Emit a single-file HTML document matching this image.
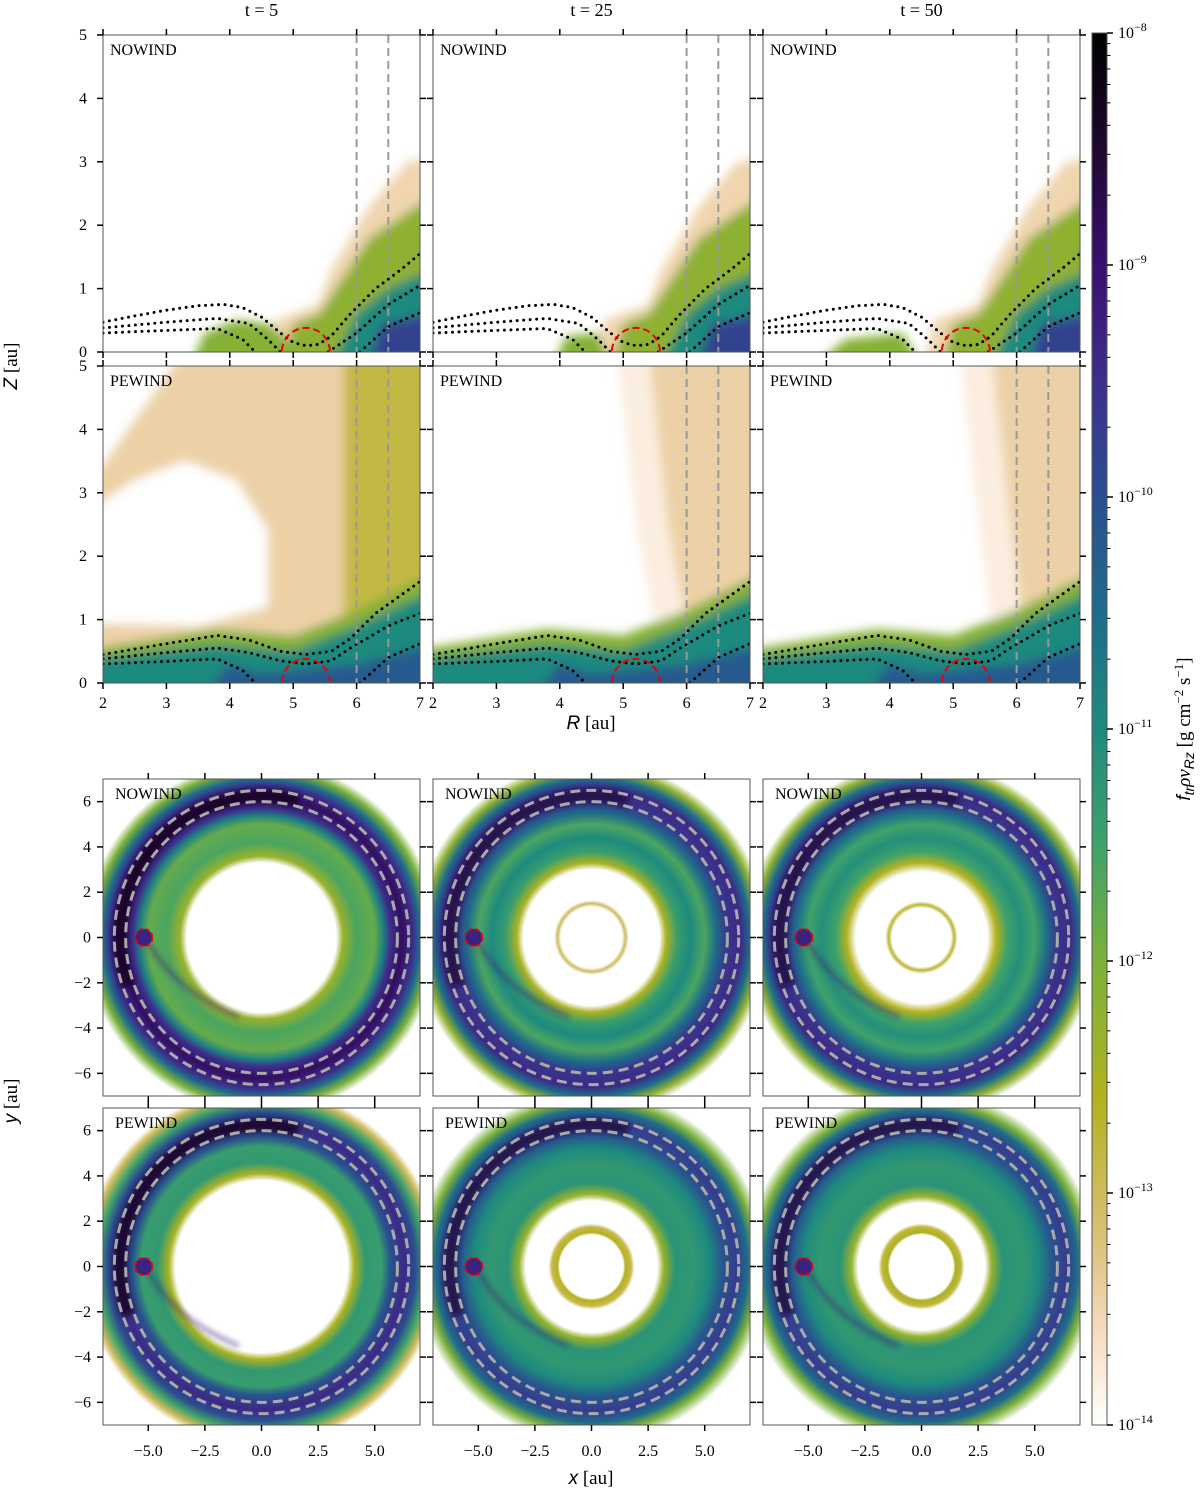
<!DOCTYPE html>
<html><head><meta charset="utf-8"><style>
html,body{margin:0;padding:0;background:#fff;width:1200px;height:1491px;overflow:hidden}
svg{display:block;font-family:"Liberation Serif",serif}
</style></head><body>
<svg id="fig" width="1200" height="1491" viewBox="0 0 1200 1491">
<defs>
<filter id="blur" x="-20%" y="-20%" width="140%" height="140%"><feGaussianBlur stdDeviation="5"/></filter>
<filter id="blur2" x="-20%" y="-20%" width="140%" height="140%"><feGaussianBlur stdDeviation="3"/></filter>
</defs>
</svg>
<script>
// ---- colormap data (log10 values -> colours)
const cmapLevels = [-14, -13.6, -13.2, -12.6, -12.0, -11.5, -11.0, -10.5, -10.0, -9.5, -9.0, -8.5, -8.0];
const cmapColors = ['#ffffff','#f6dcc0','#dcc07a','#b3b21f','#7cb13a','#3fa26a','#1e8a7e','#1e6c8a','#2b4e90','#3d2f8c','#3a0f6e','#1e0830','#000000'];
const cbarDecades = [-8, -9, -10, -11, -12, -13, -14];
const times = ['t = 5', 't = 25', 't = 50'];
const rTicks = [2, 3, 4, 5, 6, 7];
const zTicks = [0, 1, 2, 3, 4, 5];
const xyTicks = [-5, -2.5, 0, 2.5, 5];
const yTicksDisk = [-6, -4, -2, 0, 2, 4, 6];
const gapEdges = [6.0, 6.5];
const planetR = 5.2;
const planetHill = 0.38;

// NOWIND meridional layers: [polygon (R,Z), level]
const nwHalo = [[4.5,0],[4.7,0.5],[5.4,0.75],[5.6,1.3],[6.2,2.3],[6.8,3.0],[7,3.1],[7,0]];
const nwGreen = [[4.75,0],[5.0,0.45],[5.4,0.6],[5.7,1.05],[6.2,1.8],[7,2.6],[7,0]];
const nwTeal = [[5.5,0],[6,0.6],[6.5,1.0],[7,1.4],[7,0]];
const nwDark = [[6.1,0],[6.4,0.45],[7,0.65],[7,0]];
const nwLobe = [
  [[3.3,0],[3.6,0.3],[4.1,0.5],[4.6,0.45],[4.9,0.2],[5,0]],
  [[3.8,0],[4.1,0.25],[4.6,0.3],[4.9,0]],
  [[2.6,0],[3.3,0.2],[4.2,0.3],[4.6,0]]
];
const layerLevels = {halo:-13.5, green:-12.2, teal:-11.0, dark:-9.8, lobe:-12.1, band:-11.0, bandHalo:-12.1, bandDark:-10.2, beige:-13.45, beigeLight:-13.8, olive:-12.85};
// PEWIND meridional layers
const pwBandHalo = [[2,0],[2,0.5],[3.8,0.85],[5,0.75],[6,1.15],[7,1.85],[7,0]];
const pwBand = [[2,0],[2,0.35],[3.8,0.6],[5,0.5],[6,0.9],[7,1.55],[7,0]];
const pwBandDark = [[3.4,0],[4,0.3],[4.5,0.15],[5,0.2],[6,0.3],[7,0.65],[7,0]];
const pwBeige = [
  [[2,0],[2,5.2],[7.2,5.2],[7.2,0]],
  [[4.9,5.2],[7.2,5.2],[7.2,0.8],[5.5,0.9],[5.2,2.5]],
  [[5.1,5.2],[7.2,5.2],[7.2,0.8],[5.6,0.9],[5.4,2.5]]
];
const pwWhite = [[2,0.95],[2,2.6],[2.5,3.2],[3.3,3.5],[4.1,3.2],[4.6,2.4],[4.6,1.2],[3.5,0.9]];
const pwWedge = [[1.9,2.9],[1.9,5.2],[3.25,5.2]];
const pwOlive = [[5.8,0.9],[5.8,5.2],[7.2,5.2],[7.2,0.9]];

// contour curves (R,Z)
const nwContours = [
  [[2,0.47],[2.5,0.57],[3,0.66],[3.5,0.73],[3.9,0.75],[4.2,0.7],[4.5,0.55],[4.8,0.3],[5.0,0.15],[5.2,0.1],[5.4,0.12],[5.6,0.25],[5.9,0.6],[6.3,1.0],[6.7,1.3],[7,1.55]],
  [[2,0.38],[3,0.47],[3.8,0.53],[4.3,0.45],[4.6,0.2],[4.8,0]],
  [[5.55,0],[6,0.3],[6.5,0.75],[7,1.05]],
  [[2,0.3],[3,0.34],[3.8,0.37],[4.2,0.2],[4.4,0]],
  [[6.05,0],[6.5,0.4],[7,0.62]]
];
const pwContours = [
  [[2,0.45],[3,0.62],[3.8,0.75],[4.3,0.68],[4.8,0.5],[5.2,0.45],[5.6,0.5],[5.9,0.7],[6.3,1.1],[7,1.6]],
  [[2,0.38],[3,0.48],[3.8,0.55],[4.3,0.48],[4.8,0.35],[5.2,0.3],[5.6,0.35],[5.9,0.55],[6.5,0.9],[7,1.1]],
  [[2,0.3],[3,0.34],[3.8,0.38],[4.2,0.2],[4.4,0]],
  [[6.05,0],[6.5,0.4],[7,0.62]]
];

// disk radial profiles [r (au), log10 level]
const diskNowind = [
  [[0,-14],[3.3,-14],[3.6,-12.3],[4.2,-11.6],[5.0,-11.8],[5.4,-10.8],[5.7,-9.5],[6.2,-8.9],[6.7,-9.5],[7.0,-10.5],[7.4,-12.0],[7.8,-14]],
  [[0,-14],[1.35,-14],[1.5,-13.0],[1.65,-14],[3.0,-14],[3.3,-12.5],[3.8,-11.4],[4.4,-11.0],[5.0,-11.6],[5.5,-10.5],[6.0,-9.6],[6.6,-9.4],[7.0,-10.5],[7.4,-12.2],[7.8,-14]],
  [[0,-14],[1.3,-14],[1.45,-12.7],[1.6,-14],[2.9,-14],[3.3,-12.6],[3.8,-11.5],[4.4,-11.1],[5.0,-11.5],[5.5,-10.6],[6.0,-9.6],[6.6,-9.4],[7.0,-10.5],[7.4,-12.2],[7.8,-14]]
];
const diskPewind = [
  [[0,-14],[3.8,-14],[4.1,-12.5],[4.6,-11.3],[5.3,-11.4],[5.7,-10.1],[6.3,-9.4],[6.8,-10.0],[7.2,-11.5],[7.6,-13],[7.9,-14]],
  [[0,-14],[1.4,-14],[1.5,-12.6],[1.75,-12.9],[1.9,-14],[2.9,-14],[3.2,-12.3],[3.7,-11.2],[4.5,-11.3],[5.2,-11.0],[5.8,-10.1],[6.4,-9.7],[6.9,-10.5],[7.3,-12],[7.8,-14]],
  [[0,-14],[1.4,-14],[1.5,-12.5],[1.75,-12.8],[1.9,-14],[2.8,-14],[3.1,-12.3],[3.6,-11.2],[4.5,-11.3],[5.2,-11.0],[5.8,-10.1],[6.4,-9.7],[6.9,-10.5],[7.3,-12],[7.8,-14]]
];
const crescentLevels = [-8.3, -8.6, -8.6];

// ---- layout
const colX = [103, 433, 763];
const merTop = [35, 366];
const diskTop = [779, 1108];
const PW = 317, PH = 317;
const merScale = PW / 5;       // px per au
const diskScale = PW / 14;

const NS = 'http://www.w3.org/2000/svg';
const svg = document.getElementById('fig');
const defs = svg.querySelector('defs');
function mk(tag, attrs, parent) {
  const e = document.createElementNS(NS, tag);
  for (const k in attrs) e.setAttribute(k, attrs[k]);
  (parent || svg).appendChild(e);
  return e;
}
function hex2rgb(h){return [1,3,5].map(i=>parseInt(h.substr(i,2),16));}
function cmap(v) {
  if (v <= cmapLevels[0]) return cmapColors[0];
  for (let i = 1; i < cmapLevels.length; i++) {
    if (v <= cmapLevels[i]) {
      const t = (v - cmapLevels[i-1]) / (cmapLevels[i] - cmapLevels[i-1]);
      const a = hex2rgb(cmapColors[i-1]), b = hex2rgb(cmapColors[i]);
      return 'rgb(' + a.map((c,j)=>Math.round(c + (b[j]-c)*t)).join(',') + ')';
    }
  }
  return cmapColors[cmapColors.length-1];
}

// ---- meridional panels
function merPanel(row, col) {
  const x0 = colX[col], y0 = merTop[row];
  const sx = R => x0 + (R - 2) * merScale;
  const sy = Z => y0 + PH - Z * merScale;
  const ext = p => [p[0] >= 7 ? 7.4 : (p[0] <= 2 ? 1.6 : p[0]), p[1] <= 0 ? -0.4 : p[1]];
  const pts = arr => arr.map(p => sx(p[0]).toFixed(1) + ',' + sy(p[1]).toFixed(1)).join(' ');
  const g = mk('g', {});
  
  
  const cid = 'clipm' + row + col;
  const cp = mk('clipPath', {id: cid}, defs);
  mk('rect', {x: x0, y: y0, width: PW, height: PH}, cp);
  const field = mk('g', {'clip-path': 'url(#' + cid + ')'}, g);
  
  
  mk('rect', {x: x0, y: y0, width: PW, height: PH, fill: '#fff'}, field);
  const blurG = mk('g', {filter: 'url(#blur)'}, field);
  function poly(arr, lvl) { mk('polygon', {points: pts(arr.map(ext)), fill: cmap(lvl)}, blurG); }
  if (row === 0) {
    poly(nwHalo, layerLevels.halo);
    poly(nwGreen, layerLevels.green);
    poly(nwTeal, layerLevels.teal);
    poly(nwDark, layerLevels.dark);
    poly(nwLobe[col], layerLevels.lobe);
  } else {
    poly(pwBeige[col], col === 0 ? layerLevels.beige : layerLevels.beigeLight);
    if (col === 0) {
      poly(pwOlive, layerLevels.olive);
      poly(pwWhite, -14);
      poly(pwWedge, -14);
    } else {
      poly(pwBeige[col].map(p => [p[0] + 0.5, p[1]]), layerLevels.beige);
    }
    poly(pwBandHalo, layerLevels.bandHalo);
    poly(pwBand, layerLevels.band);
    poly(pwBandDark, layerLevels.bandDark);
  }
  gapEdges.forEach(R => {
    const l = mk('line', {x1: sx(R), x2: sx(R), y1: sy(5), y2: sy(0), stroke: '#999', 'stroke-width': 2, 'stroke-dasharray': '8 5'}, field);
    
    
  });
  (row === 0 ? nwContours : pwContours).forEach(c => {
    const p = mk('polyline', {points: pts(c), fill: 'none', stroke: '#000', 'stroke-width': 3, 'stroke-linecap': 'round', 'stroke-dasharray': '0 6.5'}, field);
    
    
  });
  const hc = mk('circle', {cx: sx(planetR), cy: sy(0), r: planetHill * merScale, fill: 'none', stroke: '#e00', 'stroke-width': 2, 'stroke-dasharray': '7 4'}, field);
  
  
  const fr = mk('rect', {x: x0, y: y0, width: PW, height: PH, fill: 'none', stroke: '#555', 'stroke-width': 1}, g);
  
  
  rTicks.forEach(R => {
    mk('line', {x1: sx(R), x2: sx(R), y1: y0, y2: y0 - 6, stroke: '#000', 'stroke-width': 1.5}, g);
    mk('line', {x1: sx(R), x2: sx(R), y1: y0 + PH, y2: y0 + PH + 6, stroke: '#000', 'stroke-width': 1.5}, g);
    if (row === 1) {
      const t = mk('text', {x: sx(R), y: y0 + PH + 25, 'font-size': 16, 'text-anchor': 'middle'}, g);
      t.textContent = R;
      
      
    }
  });
  zTicks.forEach(Z => {
    mk('line', {x1: x0, x2: x0 - 6, y1: sy(Z), y2: sy(Z), stroke: '#000', 'stroke-width': 1.5}, g);
    mk('line', {x1: x0 + PW, x2: x0 + PW + 6, y1: sy(Z), y2: sy(Z), stroke: '#000', 'stroke-width': 1.5}, g);
    if (col === 0) {
      const t = mk('text', {x: x0 - 16, y: sy(Z) + 5, 'font-size': 16, 'text-anchor': 'end'}, g);
      t.textContent = Z;
      
      
    }
  });
  const lab = mk('text', {x: x0 + 7, y: y0 + 20, 'font-size': 16}, g);
  lab.textContent = row === 0 ? 'NOWIND' : 'PEWIND';
  
  
}

// ---- disk panels
function diskPanel(row, col) {
  const x0 = colX[col], y0 = diskTop[row];
  const cx = x0 + PW / 2, cy = y0 + PH / 2;
  const sx = x => cx + x * diskScale;
  const sy = y => cy - y * diskScale;
  const g = mk('g', {});
  
  
  const cid = 'clipd' + row + col;
  const cp = mk('clipPath', {id: cid}, defs);
  mk('rect', {x: x0, y: y0, width: PW, height: PH}, cp);
  const field = mk('g', {'clip-path': 'url(#' + cid + ')'}, g);
  
  
  mk('rect', {x: x0, y: y0, width: PW, height: PH, fill: '#fff'}, field);
  const prof = (row === 0 ? diskNowind : diskPewind)[col];
  const rMax = prof[prof.length - 1][0];
  const gid = 'rg' + row + col;
  const rg = mk('radialGradient', {id: gid, gradientUnits: 'userSpaceOnUse', cx: cx, cy: cy, r: rMax * diskScale}, defs);
  prof.forEach(p => mk('stop', {offset: (p[0] / rMax).toFixed(4), 'stop-color': cmap(p[1])}, rg));
  const disk = mk('circle', {cx: cx, cy: cy, r: rMax * diskScale, fill: 'url(#' + gid + ')'}, field);
  
  
  // dark crescent on planet side (left), through the top
  const rc = 6.25 * diskScale;
  const a1 = 75 * Math.PI / 180, a2 = 200 * Math.PI / 180;
  const cr = mk('path', {d: 'M' + (cx + rc*Math.cos(a1)).toFixed(1) + ',' + (cy - rc*Math.sin(a1)).toFixed(1) + ' A' + rc + ',' + rc + ' 0 0 0 ' + (cx + rc*Math.cos(a2)).toFixed(1) + ',' + (cy - rc*Math.sin(a2)).toFixed(1),
    fill: 'none', stroke: cmap(crescentLevels[col]), 'stroke-width': 0.6 * diskScale, opacity: 0.8, filter: 'url(#blur2)'}, field);
  
  
  const w = mk('path', {d: 'M' + sx(-5.0) + ',' + sy(-0.2) + ' Q' + sx(-3.8) + ',' + sy(-2.4) + ' ' + sx(-1.0) + ',' + sy(-3.5),
    fill: 'none', stroke: cmap(-9.2), 'stroke-width': 3, opacity: 0.7, filter: 'url(#blur2)'}, field);
  
  
  gapEdges.forEach(r => {
    const c = mk('circle', {cx: cx, cy: cy, r: r * diskScale, fill: 'none', stroke: '#aaa', 'stroke-width': 3, 'stroke-dasharray': '10 6'}, field);
    
    
  });
  const hc = mk('circle', {cx: sx(-planetR), cy: sy(0), r: planetHill * diskScale, fill: cmap(-9.3), stroke: '#e00', 'stroke-width': 2, 'stroke-dasharray': '4 3'}, field);
  
  
  const fr = mk('rect', {x: x0, y: y0, width: PW, height: PH, fill: 'none', stroke: '#555', 'stroke-width': 1}, g);
  
  
  xyTicks.forEach(x => {
    mk('line', {x1: sx(x), x2: sx(x), y1: y0, y2: y0 - 6, stroke: '#000', 'stroke-width': 1.5}, g);
    mk('line', {x1: sx(x), x2: sx(x), y1: y0 + PH, y2: y0 + PH + 6, stroke: '#000', 'stroke-width': 1.5}, g);
    if (row === 1) {
      const t = mk('text', {x: sx(x), y: y0 + PH + 31, 'font-size': 16, 'text-anchor': 'middle'}, g);
      t.textContent = (x < 0 ? '\u2212' : '') + Math.abs(x).toFixed(1);
      
      
    }
  });
  yTicksDisk.forEach(y => {
    mk('line', {x1: x0, x2: x0 - 6, y1: sy(y), y2: sy(y), stroke: '#000', 'stroke-width': 1.5}, g);
    mk('line', {x1: x0 + PW, x2: x0 + PW + 6, y1: sy(y), y2: sy(y), stroke: '#000', 'stroke-width': 1.5}, g);
    if (col === 0) {
      const t = mk('text', {x: x0 - 12, y: sy(y) + 5, 'font-size': 16, 'text-anchor': 'end'}, g);
      t.textContent = (y < 0 ? '\u2212' : '') + Math.abs(y);
      
      
    }
  });
  const lab = mk('text', {x: x0 + 12, y: y0 + 20, 'font-size': 16}, g);
  lab.textContent = row === 0 ? 'NOWIND' : 'PEWIND';
  
  
}

for (let r = 0; r < 2; r++) for (let c = 0; c < 3; c++) { merPanel(r, c); diskPanel(r, c); }

times.forEach((t, i) => {
  const e = mk('text', {x: colX[i] + PW / 2, y: 16, 'font-size': 18, 'text-anchor': 'middle'});
  e.textContent = t;
  
  
});

function axTitle(txt, x, y, rot, name) {
  const e = mk('text', {x: x, y: y, 'font-size': 19, 'text-anchor': 'middle', transform: rot ? 'rotate(-90 ' + x + ' ' + y + ')' : ''});
  e.innerHTML = txt;
  
  
}
axTitle('<tspan font-style="italic" font-family="Liberation Sans">Z</tspan> [au]', 17, 366, true, 'z-axis-title');
axTitle('<tspan font-style="italic" font-family="Liberation Sans">R</tspan> [au]', 591, 729, false, 'r-axis-title');
axTitle('<tspan font-style="italic" font-family="Liberation Sans">y</tspan> [au]', 17, 1101, true, 'y-axis-title');
axTitle('<tspan font-style="italic" font-family="Liberation Sans">x</tspan> [au]', 591, 1484, false, 'x-axis-title');

// colorbar
const cbX = 1092, cbW = 15, cbTop = 33, cbBot = 1425;
const cbY = v => cbTop + (cbarDecades[0] - v) / (cbarDecades[0] - cbarDecades[cbarDecades.length-1]) * (cbBot - cbTop);
const lg = mk('linearGradient', {id: 'cbg', x1: 0, y1: 0, x2: 0, y2: 1}, defs);
for (let i = cmapLevels.length - 1; i >= 0; i--) {
  mk('stop', {offset: ((cbarDecades[0] - cmapLevels[i]) / 6).toFixed(4), 'stop-color': cmapColors[i]}, lg);
}
const cb = mk('rect', {x: cbX, y: cbTop, width: cbW, height: cbBot - cbTop, fill: 'url(#cbg)', stroke: '#555', 'stroke-width': 1});


cbarDecades.forEach(d => {
  mk('line', {x1: cbX + cbW, x2: cbX + cbW + 6, y1: cbY(d), y2: cbY(d), stroke: '#000', 'stroke-width': 1.5});
  if (d > -14) for (let m = 2; m <= 9; m++) {
    const yy = cbY(d - 1 + Math.log10(m));
    mk('line', {x1: cbX + cbW, x2: cbX + cbW + 3.5, y1: yy, y2: yy, stroke: '#000', 'stroke-width': 1});
  }
  const t = mk('text', {x: cbX + cbW + 11, y: cbY(d) + 5, 'font-size': 16});
  t.innerHTML = '10<tspan dy="-7" font-size="12">\u2212' + (-d) + '</tspan>';
  
  
});
const cbl = mk('text', {x: 1190, y: 729, 'font-size': 19, 'text-anchor': 'middle', transform: 'rotate(-90 1190 729)'});
cbl.innerHTML = '<tspan font-style="italic" font-family="Liberation Sans">f</tspan><tspan font-style="italic" font-family="Liberation Sans" font-size="14" dy="4">tr</tspan><tspan dy="-4" font-style="italic">\u03C1v</tspan><tspan font-style="italic" font-family="Liberation Sans" font-size="14" dy="4">Rz</tspan><tspan dy="-4"> [g cm</tspan><tspan font-size="13" dy="-7">\u22122</tspan><tspan dy="7"> s</tspan><tspan font-size="13" dy="-7">\u22121</tspan><tspan dy="7">]</tspan>';


</script>
</body></html>
